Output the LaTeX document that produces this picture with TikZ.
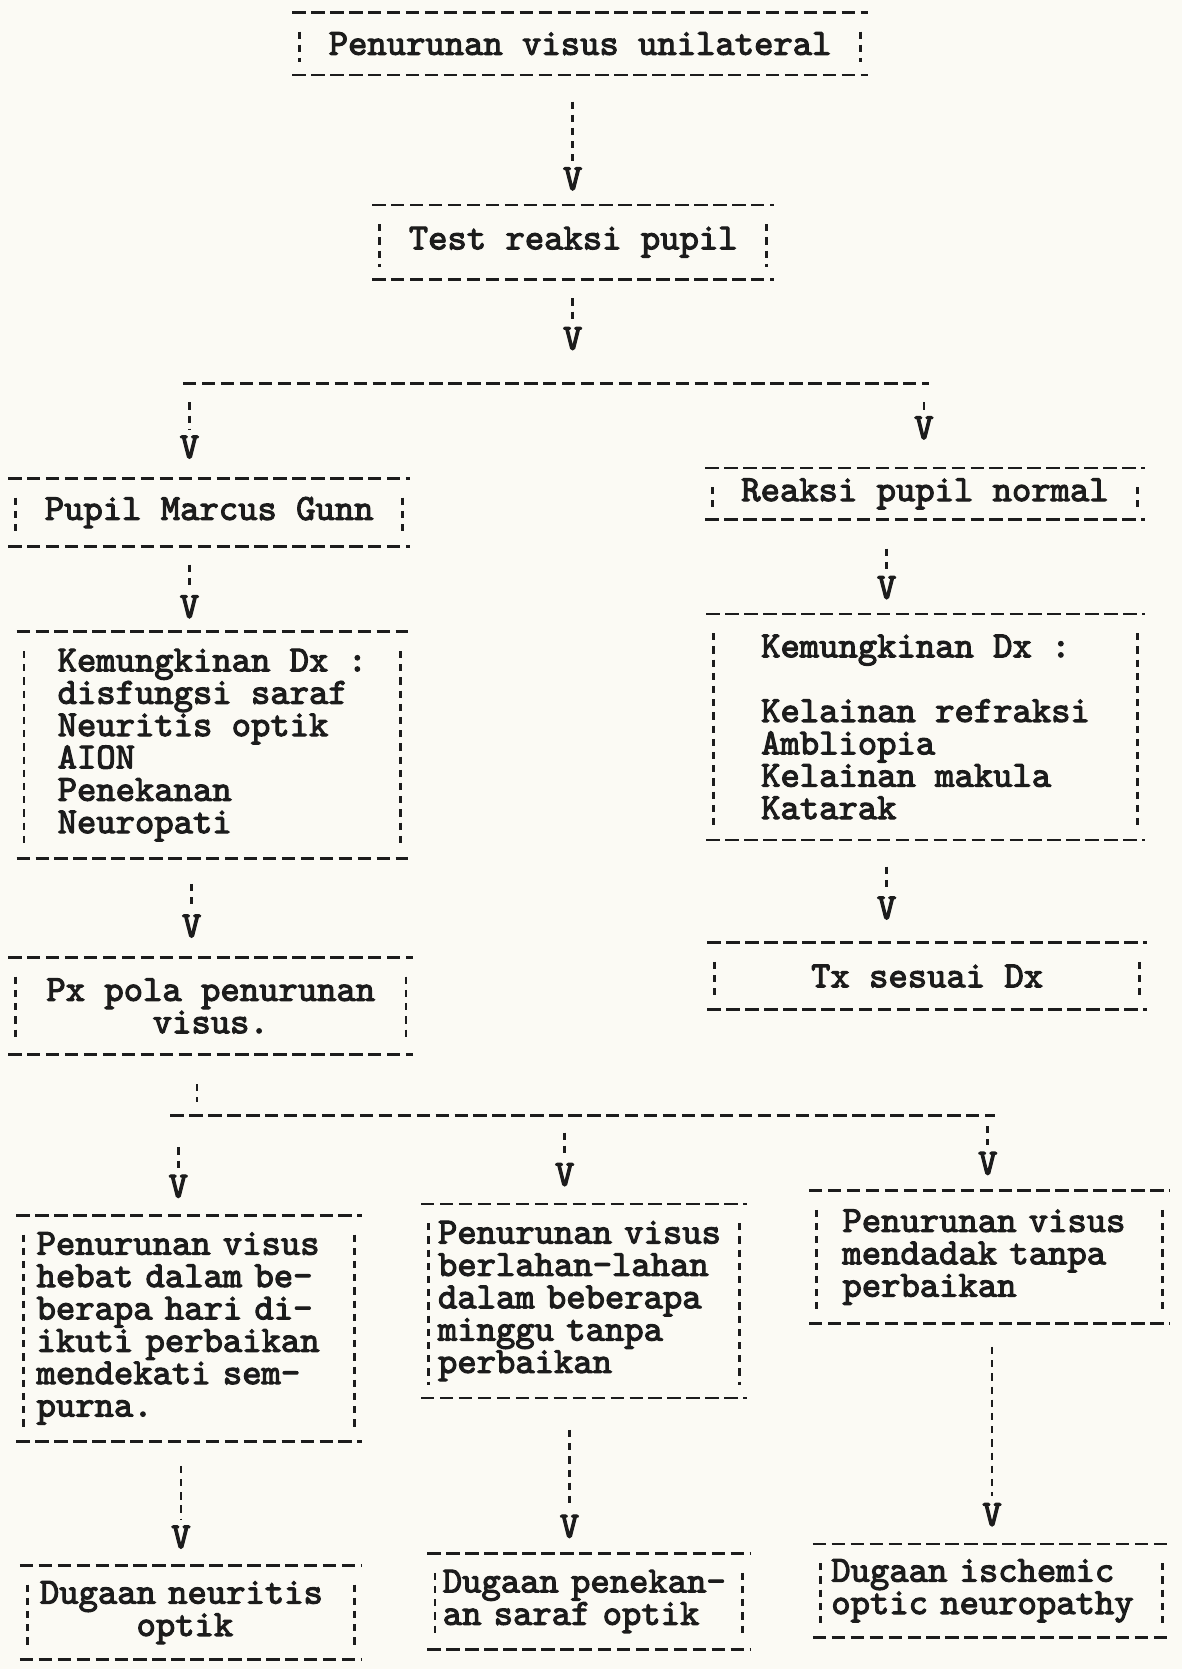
\documentclass[tikz,border=0pt]{standalone}
\usepackage{fontspec}
\usetikzlibrary{calc}

\definecolor{paper}{RGB}{251,250,244}
\definecolor{ink}{RGB}{28,28,28}
\newfontfamily\typefont{lmmono10-regular.otf}[FakeBold=3]
\newcommand{\typer}{\fontsize{17.3}{15.2}\selectfont\typefont}

\tikzset{
  tbox/.style={inner sep=0pt, font=\typer, text=ink},
  hrule/.style={draw=ink, line width=1.3pt, dash pattern=on 6.3pt off 2.6pt},
  sidebar/.style={draw=ink, line width=1.3pt, dash pattern=on 3.4pt off 2.8pt},
  vhead/.style={inner sep=0pt, font=\typer, text=ink},
  shaft/.style={sidebar, shorten >=3pt}
}

\begin{document}
\begin{tikzpicture}[x=0.5pt, y=-0.5pt]
  \fill[paper] (0,0) rectangle (1110,1568);
  \useasboundingbox (0,0) rectangle (1110,1568);

  % boxes
  \node[tbox, minimum width=270pt, minimum height=29pt] (visus) at (545,41) {Penurunan visus unilateral};
  \node[tbox, minimum width=188.5pt, minimum height=34.5pt] (test) at (538.5,227.5) {Test reaksi pupil};
  \node[tbox, minimum width=188.5pt, minimum height=31.5pt] (gunn) at (196.5,481.5) {Pupil Marcus Gunn};
  \node[tbox, minimum width=206pt, minimum height=24pt] (normal) at (869,464) {Reaksi pupil normal};
  \node[tbox, align=left, minimum width=183.5pt, minimum height=106pt] (kemL) at (199.5,700)
    {Kemungkinan Dx :\\disfungsi saraf\\Neuritis optik\\AION\\Penekanan\\Neuropati};
  \node[tbox, align=left, minimum width=205.5pt, minimum height=105.75pt] (kemR) at (869.5,683)
    {Kemungkinan Dx :\\\mbox{}\\Kelainan refraksi\\Ambliopia\\Kelainan makula\\Katarak};
  \node[tbox, align=center, minimum width=190pt, minimum height=45pt] (px) at (198,945) {Px pola penurunan\\visus.};
  \node[tbox, minimum width=206pt, minimum height=31pt] (tx) at (871,917) {Tx sesuai Dx};
  \node[tbox, align=left, text width=143.4pt, minimum width=162pt, minimum height=105.75pt] (hebat) at (177.8,1248)
    {Penurunan visus\\hebat dalam be-\\berapa hari di-\\ikuti perbaikan\\mendekati sem-\\purna.};
  \node[tbox, align=left, text width=137pt, minimum width=152.5pt, minimum height=90.7pt] (lahan) at (548.5,1222.3)
    {Penurunan visus\\berlahan-lahan\\dalam beberapa\\minggu tanpa\\perbaikan};
  \node[tbox, align=left, text width=138pt, minimum width=169pt, minimum height=62pt] (dadak) at (929.5,1181)
    {Penurunan visus\\mendadak tanpa\\perbaikan};
  \node[tbox, align=left, text width=142pt, minimum width=160.5pt, minimum height=44pt] (neur) at (179.5,1515)
    {Dugaan neuritis\\\hspace*{45.4pt}optik};
  \node[tbox, align=left, text width=137pt, minimum width=151pt, minimum height=44.5pt] (tekan) at (553,1504.5)
    {Dugaan penekan-\\an saraf optik};
  \node[tbox, align=left, text width=150.5pt, minimum width=167.5pt, minimum height=43.5pt] (isch) at (931.5,1494.5)
    {Dugaan ischemic\\optic neuropathy};

  % frames
  \foreach \n in {visus,test,gunn,normal,kemL,kemR,px,tx,hebat,lahan,dadak,neur,tekan,isch}{
    \draw[hrule] (\n.north west) -- (\n.north east) (\n.south west) -- (\n.south east);
    \draw[sidebar] ([shift={(3.5pt,-9pt)}]\n.north west) -- ([shift={(3.5pt,6pt)}]\n.south west)
                   ([shift={(-3.5pt,-9pt)}]\n.north east) -- ([shift={(-3.5pt,6pt)}]\n.south east);
  }

  % arrow heads
  \node[vhead] (v1) at (538,168) {V};
  \node[vhead] (v2) at (538,318) {V};
  \node[vhead] (v3) at (178,420) {V};
  \node[vhead] (v4) at (868,402) {V};
  \node[vhead] (v5) at (178,570) {V};
  \node[vhead] (v6) at (833,552) {V};
  \node[vhead] (v7) at (180,870) {V};
  \node[vhead] (v8) at (833,853) {V};
  \node[vhead] (v9) at (167.5,1114.5) {V};
  \node[vhead] (v10) at (530.5,1103.5) {V};
  \node[vhead] (v11) at (928,1093) {V};
  \node[vhead] (v12) at (170,1444) {V};
  \node[vhead] (v13) at (535,1434) {V};
  \node[vhead] (v14) at (932,1423) {V};

  % split lines
  \coordinate (sL) at (172,360);
  \coordinate (sR) at (873,360);
  \coordinate (jP) at (185,1050);
  \coordinate (jL) at (160,1048);
  \coordinate (jR) at (935,1048);
  \draw[hrule] (sL) -- (sR);
  \draw[hrule] (jL) -- (jR);

  % connectors
  \foreach \a/\b/\g in {visus.south/v1/12.5, test.south/v2/9, sL/v3/9, sR/v4/9,
                        gunn.south/v5/8.5, normal.south/v6/13.5, kemL.south/v7/12, kemR.south/v8/12.5,
                        jL/v9/15, jL/v10/8, jL/v11/5,
                        hebat.south/v12/11.5, lahan.south/v13/15, dadak.south/v14/11}
    \draw[shaft, shorten <=\g pt] (\b |- \a) -- (\b.north);
  \draw[shaft, shorten <=14pt, shorten >=7.5pt] (jP |- px.south) -- (jP);
\end{tikzpicture}
\end{document}
